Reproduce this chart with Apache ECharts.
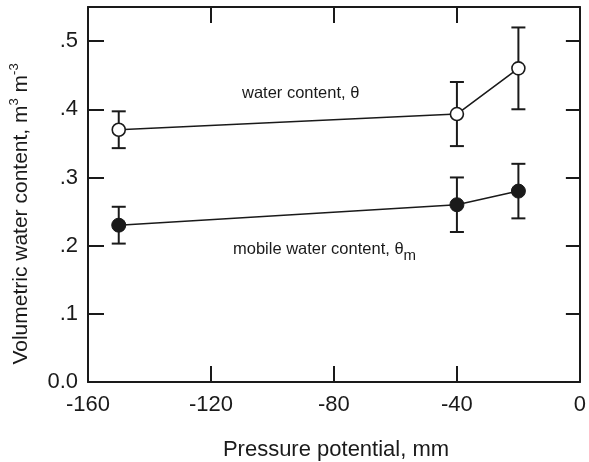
<!DOCTYPE html>
<html>
<head>
<meta charset="utf-8">
<script src="https://cdn.jsdelivr.net/npm/echarts@6/dist/echarts.min.js"></script>
<style>
  html, body { margin: 0; padding: 0; background: #fff; overflow: hidden; }
  #chart { width: 589px; height: 462px; }
</style>
</head>
<body>
<div id="chart"></div>
<script>
// Pressure potential (mm) at which water contents were measured
const pressure = [-150, -40, -20];

// Total volumetric water content, theta, and its error half-widths
const theta = [0.37, 0.393, 0.46];
const thetaErr = [0.027, 0.047, 0.06];

// Mobile water content, theta_m, and its error half-widths
const thetaM = [0.23, 0.26, 0.28];
const thetaMErr = [0.027, 0.04, 0.04];

// Axis ticks
const xTicks = [-160, -120, -80, -40, 0];
const yTicks = [0, 0.1, 0.2, 0.3, 0.4, 0.5];

const INK = '#1a1a1a';
const FONT = 'Liberation Sans, Arial, Helvetica, sans-serif';

function points(ys) {
  return pressure.map((p, i) => [p, ys[i]]);
}
function errorRows(ys, es) {
  return pressure.map((p, i) => [p, ys[i] - es[i], ys[i] + es[i]]);
}

function yLabel(v) {
  const hit = yTicks.find(t => Math.abs(t - v) < 1e-9);
  if (hit === undefined) return '';
  if (hit === 0) return '0.0';
  return '.' + Math.round(hit * 10);
}
function xLabel(v) {
  return xTicks.indexOf(v) >= 0 ? String(v) : '';
}

// Vertical error bar with caps
function renderErrorBar(params, api) {
  const x = api.value(0);
  const top = api.coord([x, api.value(2)]);
  const bot = api.coord([x, api.value(1)]);
  const half = 7;
  const style = { stroke: INK, lineWidth: 2 };
  return {
    type: 'group',
    children: [
      { type: 'line', shape: { x1: top[0], y1: top[1], x2: bot[0], y2: bot[1] }, style },
      { type: 'line', shape: { x1: top[0] - half, y1: top[1], x2: top[0] + half, y2: top[1] }, style },
      { type: 'line', shape: { x1: bot[0] - half, y1: bot[1], x2: bot[0] + half, y2: bot[1] }, style }
    ]
  };
}

const axisLineStyle = { show: true, onZero: false, lineStyle: { color: INK, width: 2 } };
const tickStyle = { show: true, inside: true, length: 16, lineStyle: { color: INK, width: 2 } };

const chart = echarts.init(document.getElementById('chart'), null, { renderer: 'canvas' });

chart.setOption({
  backgroundColor: '#fff',
  animation: false,
  grid: { left: 88, right: 4, top: 7, bottom: 80 },
  xAxis: [
    {
      type: 'value', position: 'bottom',
      min: -160, max: 0, interval: 40,
      axisLine: axisLineStyle, axisTick: tickStyle,
      splitLine: { show: false },
      axisLabel: {
        formatter: xLabel, color: INK, fontSize: 22, fontFamily: FONT, margin: 12
      }
    },
    {
      type: 'value', position: 'top',
      min: -160, max: 0, interval: 40,
      axisLine: axisLineStyle, axisTick: tickStyle,
      splitLine: { show: false }, axisLabel: { show: false }
    }
  ],
  yAxis: [
    {
      type: 'value', position: 'left',
      min: 0, max: 0.55, interval: 0.1,
      axisLine: axisLineStyle, axisTick: tickStyle,
      splitLine: { show: false },
      axisLabel: {
        formatter: yLabel, color: INK, fontSize: 22, fontFamily: FONT, margin: 10
      }
    },
    {
      type: 'value', position: 'right',
      min: 0, max: 0.55, interval: 0.1,
      axisLine: axisLineStyle, axisTick: Object.assign({}, tickStyle, { length: 14 }),
      splitLine: { show: false }, axisLabel: { show: false }
    }
  ],
  series: [
    {
      type: 'custom', name: 'theta error',
      renderItem: renderErrorBar,
      data: errorRows(theta, thetaErr),
      encode: { x: 0, y: [1, 2] }, z: 2
    },
    {
      type: 'custom', name: 'theta_m error',
      renderItem: renderErrorBar,
      data: errorRows(thetaM, thetaMErr),
      encode: { x: 0, y: [1, 2] }, z: 2
    },
    {
      type: 'line', name: 'water content',
      data: points(theta),
      symbol: 'circle', symbolSize: 13,
      lineStyle: { color: INK, width: 1.6 },
      itemStyle: { color: '#fff', borderColor: INK, borderWidth: 1.6 },
      z: 3
    },
    {
      type: 'line', name: 'mobile water content',
      data: points(thetaM),
      symbol: 'circle', symbolSize: 14,
      lineStyle: { color: INK, width: 1.6 },
      itemStyle: { color: INK, borderColor: INK, borderWidth: 1 },
      z: 3
    }
  ],
  graphic: [
    {
      type: 'text', x: 242, y: 93,
      style: {
        text: 'water content, θ',
        fill: INK, fontSize: 16.5, fontFamily: FONT,
        align: 'left', verticalAlign: 'middle'
      }
    },
    {
      type: 'text', x: 233, y: 252,
      style: {
        text: '{a|mobile water content, θ}{s|m}',
        fill: INK, fontFamily: FONT,
        align: 'left', verticalAlign: 'middle',
        rich: {
          a: { fontSize: 16.5, fontFamily: FONT, fill: INK, lineHeight: 22, verticalAlign: 'top' },
          s: { fontSize: 15, fontFamily: FONT, fill: INK, lineHeight: 22, verticalAlign: 'bottom' }
        }
      }
    },
    {
      type: 'text', x: 19, y: 214, rotation: Math.PI / 2,
      style: {
        text: '{a|Volumetric water content, m}{p|3}{a| m}{p|-3}',
        fill: INK, fontFamily: FONT,
        align: 'center', verticalAlign: 'middle',
        rich: {
          a: { fontSize: 21, fontFamily: FONT, fill: INK, lineHeight: 26, verticalAlign: 'bottom' },
          p: { fontSize: 13, fontFamily: FONT, fill: INK, lineHeight: 26, verticalAlign: 'top', padding: [2, 0, 0, 0] }
        }
      }
    },
    {
      type: 'text', x: 336, y: 450,
      style: {
        text: 'Pressure potential, mm',
        fill: INK, fontSize: 22, fontFamily: FONT,
        align: 'center', verticalAlign: 'middle'
      }
    }
  ]
});
</script>
</body>
</html>
